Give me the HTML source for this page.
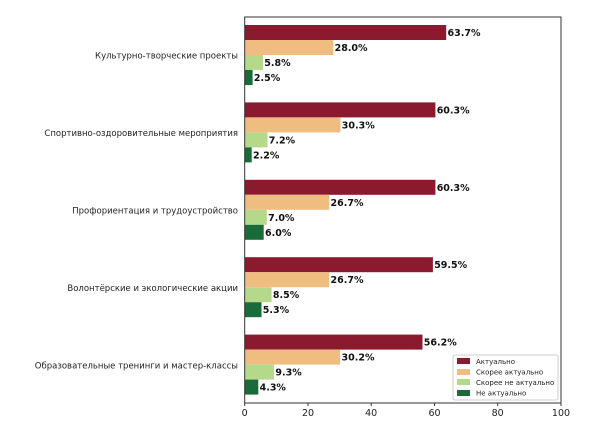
<!DOCTYPE html><html><head><meta charset="utf-8"><style>body{margin:0;background:#fff}</style></head><body>
<svg width="600" height="431" xmlns="http://www.w3.org/2000/svg" font-family="'DejaVu Sans','Liberation Sans',sans-serif">
<rect width="600" height="431" fill="#fff"/>
<g>
<rect x="244.7" y="25" width="201.5" height="15" fill="#8b1a2e"/>
<rect x="244.7" y="40" width="88.6" height="15" fill="#f0bd80"/>
<rect x="244.7" y="55" width="18.3" height="15" fill="#b5d98a"/>
<rect x="244.7" y="70" width="7.9" height="15" fill="#1a6b3a"/>
<rect x="244.7" y="102.4" width="190.7" height="15" fill="#8b1a2e"/>
<rect x="244.7" y="117.4" width="95.8" height="15" fill="#f0bd80"/>
<rect x="244.7" y="132.4" width="22.8" height="15" fill="#b5d98a"/>
<rect x="244.7" y="147.4" width="7.0" height="15" fill="#1a6b3a"/>
<rect x="244.7" y="179.8" width="190.7" height="15" fill="#8b1a2e"/>
<rect x="244.7" y="194.8" width="84.5" height="15" fill="#f0bd80"/>
<rect x="244.7" y="209.8" width="22.1" height="15" fill="#b5d98a"/>
<rect x="244.7" y="224.8" width="19.0" height="15" fill="#1a6b3a"/>
<rect x="244.7" y="257.2" width="188.2" height="15" fill="#8b1a2e"/>
<rect x="244.7" y="272.2" width="84.5" height="15" fill="#f0bd80"/>
<rect x="244.7" y="287.2" width="26.9" height="15" fill="#b5d98a"/>
<rect x="244.7" y="302.2" width="16.8" height="15" fill="#1a6b3a"/>
<rect x="244.7" y="334.6" width="177.8" height="15" fill="#8b1a2e"/>
<rect x="244.7" y="349.6" width="95.5" height="15" fill="#f0bd80"/>
<rect x="244.7" y="364.6" width="29.4" height="15" fill="#b5d98a"/>
<rect x="244.7" y="379.6" width="13.6" height="15" fill="#1a6b3a"/>
</g>
<g font-size="9.5" font-weight="bold" fill="#111">
<text x="447.5" y="36">63.7%</text><text x="334.6" y="51">28.0%</text><text x="264.3" y="66">5.8%</text><text x="253.9" y="81">2.5%</text>
<text x="436.7" y="113.4">60.3%</text><text x="341.8" y="128.4">30.3%</text><text x="268.8" y="143.4">7.2%</text><text x="253" y="158.4">2.2%</text>
<text x="436.7" y="190.8">60.3%</text><text x="330.5" y="205.8">26.7%</text><text x="268.1" y="220.8">7.0%</text><text x="265" y="235.8">6.0%</text>
<text x="434.2" y="268.2">59.5%</text><text x="330.5" y="283.2">26.7%</text><text x="272.9" y="298.2">8.5%</text><text x="262.8" y="313.2">5.3%</text>
<text x="423.8" y="345.6">56.2%</text><text x="341.5" y="360.6">30.2%</text><text x="275.4" y="375.6">9.3%</text><text x="259.6" y="390.6">4.3%</text>
</g>
<rect x="244.7" y="17" width="316.3" height="386" fill="none" stroke="#333" stroke-width="1"/>
<g font-size="9.5" fill="#222" text-anchor="middle">
<line x1="244.7" y1="403" x2="244.7" y2="406" stroke="#333"/><text x="244.7" y="416">0</text>
<line x1="308" y1="403" x2="308" y2="406" stroke="#333"/><text x="308" y="416">20</text>
<line x1="371.2" y1="403" x2="371.2" y2="406" stroke="#333"/><text x="371.2" y="416">40</text>
<line x1="434.5" y1="403" x2="434.5" y2="406" stroke="#333"/><text x="434.5" y="416">60</text>
<line x1="497.7" y1="403" x2="497.7" y2="406" stroke="#333"/><text x="497.7" y="416">80</text>
<line x1="561" y1="403" x2="561" y2="406" stroke="#333"/><text x="561" y="416">100</text>
</g>
<g font-size="8.5" fill="#222" text-anchor="end">
<text x="238" y="58.5">Культурно-творческие проекты</text>
<text x="238" y="136">Спортивно-оздоровительные мероприятия</text>
<text x="238" y="213.5">Профориентация и трудоустройство</text>
<text x="238" y="291">Волонтёрские и экологические акции</text>
<text x="238" y="368.5">Образовательные тренинги и мастер-классы</text>
</g>
<g>
<rect x="453" y="355" width="105" height="45" fill="#fff" stroke="#ccc" rx="2"/>
<rect x="457" y="358" width="13" height="6" fill="#8b1a2e"/>
<rect x="457" y="369" width="13" height="6" fill="#f0bd80"/>
<rect x="457" y="379" width="13" height="6" fill="#b5d98a"/>
<rect x="457" y="390" width="13" height="6" fill="#1a6b3a"/>
<g font-size="7" fill="#222"><text x="476" y="364">Актуально</text><text x="476" y="374.5">Скорее актуально</text><text x="476" y="385">Скорее не актуально</text><text x="476" y="395.5">Не актуально</text></g>
</g>
</svg></body></html>
